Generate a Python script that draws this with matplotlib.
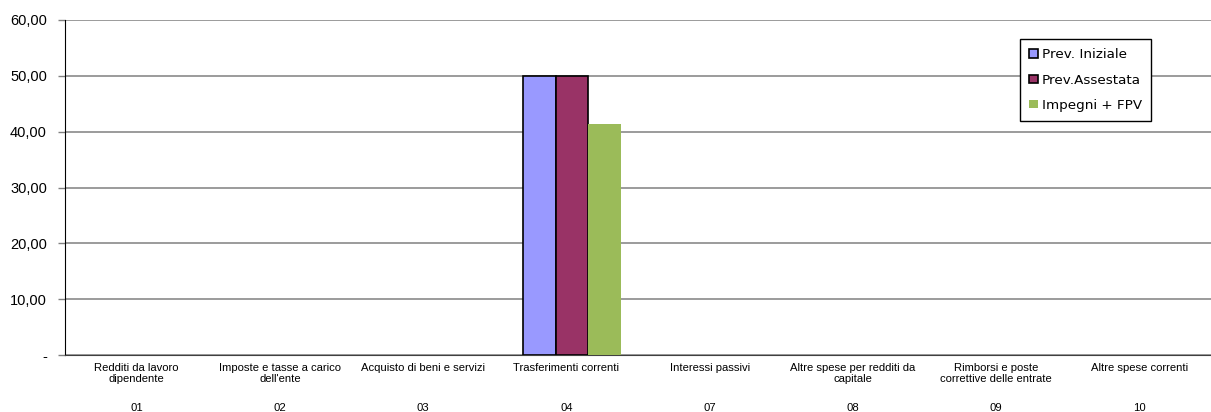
import matplotlib.pyplot as plt
import numpy as np

# categorie di spesa (titolo 1)
codici = ["01", "02", "03", "04", "07", "08", "09", "10"]
voci = ["Redditi da lavoro\ndipendente",
        "Imposte e tasse a carico\ndell'ente",
        "Acquisto di beni e servizi",
        "Trasferimenti correnti",
        "Interessi passivi",
        "Altre spese per redditi da\ncapitale",
        "Rimborsi e poste\ncorrettive delle entrate",
        "Altre spese correnti"]
prev_iniziale = [0, 0, 0, 50.0, 0, 0, 0, 0]
prev_assestata = [0, 0, 0, 50.0, 0, 0, 0, 0]
impegni_fpv = [0, 0, 0, 41.4, 0, 0, 0, 0]
y_ticks = [0, 10, 20, 30, 40, 50, 60]
y_labels = ["-", "10,00", "20,00", "30,00", "40,00", "50,00", "60,00"]

fig = plt.figure(figsize=(12.11, 4.12), dpi=100)
ax = fig.add_axes([0.0537, 0.1383, 0.9463, 0.8132])

x = np.arange(len(codici))
w = 0.227
series = [
    (prev_iniziale, "#9999FF", "black", "Prev. Iniziale"),
    (prev_assestata, "#993366", "black", "Prev.Assestata"),
    (impegni_fpv, "#9BBB59", "none", "Impegni + FPV"),
]
for i, (vals, col, ec, lab) in enumerate(series):
    vals = np.array(vals, dtype=float)
    mask = vals > 0
    ax.bar(x[mask] + (i - 1) * w + 0.04, vals[mask], width=w, color=col,
           edgecolor=ec, linewidth=1.2, zorder=3)
    ax.bar([np.nan], [np.nan], color=col, edgecolor=ec, linewidth=1.2, label=lab)

ax.set_xlim(-0.5, len(codici) - 0.5)
ax.set_ylim(0, 60)
ax.set_yticks(y_ticks)
ax.set_yticklabels(y_labels, fontfamily="Liberation Sans", fontsize=10.5)
ax.yaxis.grid(True, color="#808080", linewidth=1.1, zorder=0)
ax.tick_params(axis="y", length=5, width=1, color="#808080", pad=8)

ax.set_xticks(x)
ax.set_xticklabels(voci, fontfamily="Liberation Sans", fontsize=8.1,
                   linespacing=1.05, va="top")
ax.tick_params(axis="x", length=0, pad=6)
for xi, c in zip(x, codici):
    ax.text(xi, -0.158, c, transform=ax.get_xaxis_transform(),
            ha="center", va="center", fontfamily="Liberation Sans", fontsize=8.1)

for s in ["top", "right"]:
    ax.spines[s].set_visible(False)
ax.spines["left"].set_color("black")
ax.spines["bottom"].set_color("#404040")

leg = ax.legend(loc="upper left", bbox_to_anchor=(0.8423, 0.9053),
                bbox_transform=fig.transFigure, fancybox=False,
                edgecolor="black", framealpha=1, fontsize=9.7,
                handlelength=0.6, handleheight=0.6, handletextpad=0.3,
                labelspacing=0.9, borderpad=0.7, borderaxespad=0)
leg.get_frame().set_linewidth(1.0)

fig.savefig("out.png", dpi=100)
